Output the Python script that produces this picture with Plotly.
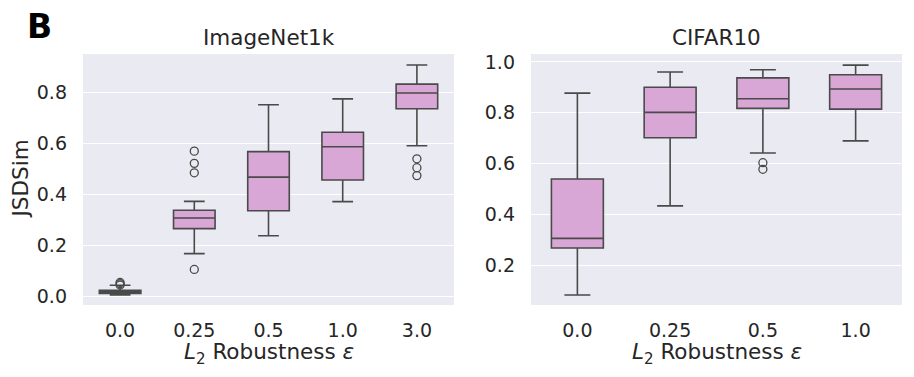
import plotly.graph_objects as go

# ImageNet1k panel
inet_cats = ["0.0", "0.25", "0.5", "1.0", "3.0"]
inet_lower = [0.007, 0.169, 0.239, 0.373, 0.592]
inet_q1 = [0.013, 0.267, 0.337, 0.458, 0.737]
inet_median = [0.019, 0.309, 0.469, 0.588, 0.799]
inet_q3 = [0.025, 0.339, 0.569, 0.645, 0.834]
inet_upper = [0.045, 0.374, 0.753, 0.776, 0.909]
inet_out_x = ["0.0", "0.0", "0.0", "0.25", "0.25", "0.25", "0.25", "3.0", "3.0", "3.0"]
inet_out_y = [0.046, 0.051, 0.056, 0.571, 0.523, 0.486, 0.107, 0.541, 0.506, 0.475]

# CIFAR10 panel
cifar_cats = ["0.0", "0.25", "0.5", "1.0"]
cifar_lower = [0.082, 0.433, 0.641, 0.689]
cifar_q1 = [0.267, 0.701, 0.817, 0.814]
cifar_median = [0.305, 0.801, 0.855, 0.893]
cifar_q3 = [0.539, 0.900, 0.937, 0.949]
cifar_upper = [0.877, 0.960, 0.969, 0.987]
cifar_out_x = ["0.5", "0.5"]
cifar_out_y = [0.603, 0.577]

yticks_inet = [0.0, 0.2, 0.4, 0.6, 0.8]
yticks_cifar = [0.2, 0.4, 0.6, 0.8, 1.0]

FILL = "#D8A7D6"
LINE = "#4a4a4a"
BG = "#EAEAF2"
TXT = "#262626"
FONT = "DejaVu Sans"

fig = go.Figure()

fig.add_trace(go.Box(
    x=inet_cats, q1=inet_q1, median=inet_median, q3=inet_q3,
    lowerfence=inet_lower, upperfence=inet_upper,
    fillcolor=FILL, line=dict(color=LINE, width=1.6), whiskerwidth=0.5,
    boxpoints=False, xaxis="x", yaxis="y", showlegend=False, hoverinfo="skip"))
fig.add_trace(go.Scatter(
    x=inet_out_x, y=inet_out_y, mode="markers",
    marker=dict(symbol="circle-open", size=8, color=LINE, line=dict(width=1.3)),
    xaxis="x", yaxis="y", showlegend=False))

fig.add_trace(go.Box(
    x=cifar_cats, q1=cifar_q1, median=cifar_median, q3=cifar_q3,
    lowerfence=cifar_lower, upperfence=cifar_upper,
    fillcolor=FILL, line=dict(color=LINE, width=1.6), whiskerwidth=0.5,
    boxpoints=False, xaxis="x2", yaxis="y2", showlegend=False, hoverinfo="skip"))
fig.add_trace(go.Scatter(
    x=cifar_out_x, y=cifar_out_y, mode="markers",
    marker=dict(symbol="circle-open", size=8, color=LINE, line=dict(width=1.3)),
    xaxis="x2", yaxis="y2", showlegend=False))

# page has an 8px body margin; figure is sized to fit inside it
OFF = 8
W, H = 914 - 2 * OFF, 377 - 2 * OFF

def px(sx):
    return (sx - OFF) / W

def py(sy):
    return 1 - (sy - OFF) / H

d1 = [px(83), px(454)]
d2 = [px(531), px(902)]
dy = [py(305), py(54)]

xlabel = "<i>L</i><sub>2</sub> Robustness <i>ε</i>"

common_x = dict(showgrid=False, zeroline=False, showline=False, ticks="",
                tickfont=dict(size=19, color=TXT, family=FONT),
                ticklabelstandoff=12, type="category", automargin=False)
common_y = dict(showgrid=True, gridcolor="white", gridwidth=1.2, zeroline=False,
                showline=False, ticks="", tickfont=dict(size=19, color=TXT, family=FONT),
                ticklabelstandoff=15, automargin=False)

def ann(text, sx, sy, size, **kw):
    d = dict(text=text, x=px(sx), y=py(sy), xref="paper", yref="paper",
             xanchor="center", yanchor="middle", showarrow=False,
             font=dict(size=size, color=TXT, family=FONT))
    d.update(kw)
    return d

fig.update_layout(
    width=W, height=H,
    margin=dict(l=0, r=0, t=0, b=0),
    paper_bgcolor="white",
    plot_bgcolor=BG,
    boxgap=0.2,
    font=dict(family=FONT, color=TXT),
    xaxis=dict(domain=d1, anchor="y", range=[-0.5, 4.5],
               categoryorder="array", categoryarray=inet_cats, **common_x),
    yaxis=dict(domain=dy, anchor="x", range=[-0.0325, 0.952],
               tickvals=yticks_inet, ticktext=[f"{v:.1f}" for v in yticks_inet],
               **common_y),
    xaxis2=dict(domain=d2, anchor="y2", range=[-0.5, 3.5],
                categoryorder="array", categoryarray=cifar_cats, **common_x),
    yaxis2=dict(domain=dy, anchor="x2", range=[0.0425, 1.031],
                tickvals=yticks_cifar, ticktext=[f"{v:.1f}" for v in yticks_cifar],
                **common_y),
    annotations=[
        ann("<b>B</b>", 25, 8, 33, xanchor="left", yanchor="top", yshift=3,
            font=dict(size=33, color="black", family=FONT)),
        ann("ImageNet1k", (83 + 454) / 2, 38, 21.5),
        ann("CIFAR10", (531 + 902) / 2, 38, 21.5),
        ann(xlabel, (83 + 454) / 2, 353, 21.5),
        ann(xlabel, (531 + 902) / 2, 353, 21.5),
        ann("JSDSim", 20, (54 + 305) / 2, 21.5, textangle=-90),
    ],
)

fig.write_html("out.html")
